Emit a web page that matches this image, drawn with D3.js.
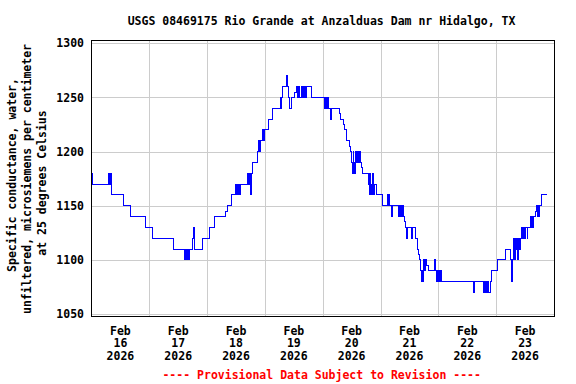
<!DOCTYPE html>
<html>
<head>
<meta charset="utf-8">
<script src="https://cdn.jsdelivr.net/npm/d3@7"></script>
<style>
  html, body { margin: 0; padding: 0; background: #fff; }
  svg { display: block; }
  text { font-family: "DejaVu Sans Mono", "Liberation Mono", monospace; font-weight: bold; font-size: 11.5px; fill: #000; }
</style>
</head>
<body>
<svg id="chart" width="576" height="384"></svg>
<script>
// ---- data (hours after 2026-02-16 00:00, value in microsiemens/cm) ----
const hours = [
  0.0, 0.25, 7.2, 7.6, 7.9, 8.1, 13.4, 16.2, 22.4, 25.4, 34.2,
  38.8, 39.2, 39.4, 39.8, 40.3, 40.8, 41.9, 42.4, 42.8, 45.9, 49.1, 51.1, 55.6, 56.3,
  58.3, 59.7, 60.0, 60.3, 60.7, 61.1, 61.5, 61.7, 64.9, 65.3, 65.6, 65.9, 66.1, 66.4, 66.9,
  69.0, 69.4, 69.7, 70.0, 70.8, 71.1, 71.4, 71.6, 71.9, 73.5, 75.1,
  78.4, 78.7, 78.9, 79.3, 80.9, 81.3, 81.8, 82.4, 83.1, 84.3, 85.3, 85.6, 86.0, 86.4,
  87.1, 87.4, 88.1, 88.3, 88.6, 88.9, 89.2, 91.2,
  96.6, 97.1, 97.5, 97.9, 98.4, 99.1, 99.5, 103.0, 103.5, 104.6, 105.1, 106.0, 107.0, 107.4,
  108.1, 108.4, 108.7, 108.9, 109.2, 109.5, 109.8, 110.2, 110.5, 110.8, 111.1, 111.5, 112.0, 112.7,
  115.0, 115.3, 115.6, 115.8, 116.1, 116.4, 116.7, 116.9, 117.4, 118.5, 120.8,
  122.8, 123.2, 123.4, 123.7, 124.7, 125.0, 127.4, 127.7, 128.0, 128.3, 128.6, 128.9,
  129.5, 129.9, 130.2, 130.9, 131.2, 133.0, 133.4, 134.6, 135.4, 135.7, 136.1,
  136.6, 136.8, 137.1, 137.4, 137.8, 138.2, 138.8, 139.2, 139.9, 142.4, 142.9,
  143.4, 143.6, 143.9, 144.2, 144.4, 144.7, 145.1, 158.5, 159.0,
  162.7, 163.0, 163.3, 163.5, 163.8, 164.1, 164.4, 164.8, 165.0, 165.5, 166.1, 168.6, 171.7,
  174.0, 174.3, 174.5, 174.7, 175.0, 175.3, 175.6, 175.9, 176.2, 176.4, 176.8, 177.1, 177.5, 177.9,
  178.6, 178.9, 179.2, 179.5, 179.7, 180.0, 180.3, 180.9, 181.2,
  182.3, 182.6, 182.9, 183.2, 183.4, 184.4, 184.8, 185.1, 185.5, 185.8, 186.1, 186.9, 189.0
];
const values = [
  1180, 1170, 1180, 1170, 1180, 1160, 1150, 1140, 1130, 1120, 1110,
  1100, 1110, 1100, 1110, 1100, 1110, 1120, 1130, 1110, 1120, 1130, 1140, 1145, 1150,
  1160, 1170, 1160, 1170, 1160, 1170, 1160, 1170, 1180, 1170, 1180, 1170, 1160, 1180, 1190,
  1200, 1210, 1200, 1210, 1220, 1210, 1220, 1210, 1220, 1230, 1240,
  1250, 1240, 1250, 1260, 1270, 1260, 1250, 1240, 1250, 1255, 1260, 1250, 1260, 1250,
  1260, 1250, 1260, 1250, 1260, 1250, 1260, 1250,
  1240, 1250, 1240, 1250, 1240, 1230, 1240, 1235, 1230, 1225, 1220, 1210, 1205, 1200,
  1190, 1180, 1200, 1180, 1190, 1180, 1200, 1190, 1200, 1190, 1200, 1190, 1185, 1180,
  1170, 1160, 1180, 1160, 1170, 1160, 1180, 1160, 1170, 1160, 1150,
  1160, 1150, 1160, 1150, 1140, 1150, 1140, 1150, 1140, 1150, 1140, 1150,
  1140, 1135, 1130, 1120, 1130, 1120, 1130, 1120, 1110, 1105, 1100,
  1090, 1080, 1090, 1080, 1100, 1090, 1100, 1095, 1090, 1100, 1090,
  1080, 1090, 1080, 1090, 1080, 1090, 1080, 1070, 1080,
  1070, 1080, 1070, 1080, 1070, 1080, 1070, 1080, 1070, 1080, 1090, 1100, 1110,
  1100, 1090, 1080, 1100, 1110, 1120, 1100, 1120, 1110, 1120, 1100, 1120, 1110, 1120,
  1130, 1120, 1130, 1120, 1130, 1120, 1130, 1120, 1130,
  1140, 1130, 1140, 1130, 1140, 1145, 1150, 1140, 1150, 1140, 1150, 1160, 1160
];
const yTicks = [1050, 1100, 1150, 1200, 1250, 1300];
const dayLabels = ["16", "17", "18", "19", "20", "21", "22", "23"];
const monthLabel = "Feb";
const yearLabel = "2026";
const titleText = "USGS 08469175 Rio Grande at Anzalduas Dam nr Hidalgo, TX";
const yTitleLines = ["Specific conductance, water,", "unfiltered, microsiemens per centimeter", "at 25 degrees Celsius"];
const footerText = "---- Provisional Data Subject to Revision ----";

// ---- layout ----
const svg = d3.select("#chart");
const L = 91.5, R = 554, T = 40, B = 316;
const t0 = Date.UTC(2026, 1, 16, 0, 0);
const t1 = Date.UTC(2026, 1, 24, 0, 0);

const x = d3.scaleUtc().domain([new Date(t0), new Date(t1)]).range([L, R]);
const y = d3.scaleLinear().domain([1050, 1300]).range([314, 43.3]);

const data = hours.map((h, i) => ({ t: new Date(t0 + h * 3600e3), v: values[i] }));

// grid
const g = svg.append("g");
const midnights = d3.utcDay.range(new Date(t0 + 1), new Date(t1));
g.selectAll("line.vg").data(midnights).enter().append("line")
  .attr("x1", d => Math.round(x(d)) + 0.5).attr("x2", d => Math.round(x(d)) + 0.5)
  .attr("y1", T).attr("y2", B)
  .attr("stroke", "#cccccc").attr("stroke-width", 1);
g.selectAll("line.hg").data(yTicks).enter().append("line")
  .attr("x1", L).attr("x2", R)
  .attr("y1", d => Math.round(y(d)) + 0.5).attr("y2", d => Math.round(y(d)) + 0.5)
  .attr("stroke", "#cccccc").attr("stroke-width", 1);

// data line
const line = d3.line().x(d => x(d.t)).y(d => y(d.v)).curve(d3.curveStepAfter);
svg.append("path").datum(data)
  .attr("d", line)
  .attr("fill", "none").attr("stroke", "#0000ff").attr("stroke-width", 1)
  .attr("shape-rendering", "crispEdges");

// frame
svg.append("rect").attr("x", L).attr("y", T + 0.5).attr("width", R - L).attr("height", B - T)
  .attr("fill", "none").attr("stroke", "#000").attr("stroke-width", 1)
  .attr("shape-rendering", "crispEdges");

// y tick labels
svg.selectAll("text.yt").data(yTicks).enter().append("text")
  .attr("x", 84).attr("y", d => y(d)).attr("dy", "0.36em")
  .attr("text-anchor", "end").text(d => d);

// x tick labels (at noon of each day)
const noons = d3.utcDay.range(new Date(t0), new Date(t1)).map(d => new Date(+d + 12 * 3600e3));
const xl = svg.selectAll("g.xl").data(noons).enter().append("g");
xl.append("text").attr("x", d => x(d)).attr("y", 334.5).attr("text-anchor", "middle").text(monthLabel);
xl.append("text").attr("x", d => x(d)).attr("y", 347.2).attr("text-anchor", "middle").text((d, i) => dayLabels[i]);
xl.append("text").attr("x", d => x(d)).attr("y", 360).attr("text-anchor", "middle").text(yearLabel);

// title
svg.append("text").attr("x", 321.5).attr("y", 24.5).attr("text-anchor", "middle").text(titleText);

// y axis title
const yCenters = [175, 179, 183];
const yBase = [15.5, 30.5, 45.5];
yTitleLines.forEach((s, i) => {
  svg.append("text")
    .attr("transform", `translate(${yBase[i]},${yCenters[i]}) rotate(-90)`)
    .attr("text-anchor", "middle").text(s);
});

// footer
svg.append("text").attr("x", 321.7).attr("y", 378.8).attr("text-anchor", "middle")
  .style("fill", "#ff0000").text(footerText);
</script>
</body>
</html>
